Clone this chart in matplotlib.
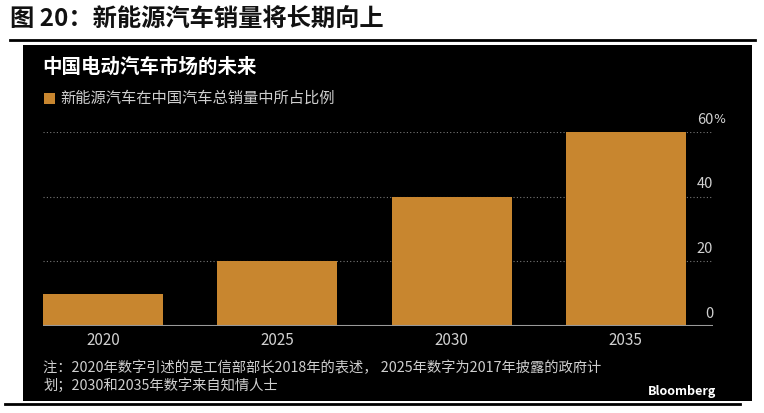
import matplotlib.pyplot as plt
from matplotlib.patches import Rectangle
from matplotlib.lines import Line2D

plt.rcParams['font.family'] = ['Noto Sans CJK SC', 'DejaVu Sans']

years = ['2020', '2025', '2030', '2035']
share = [10, 20, 40, 60]
yticks = [0, 20, 40, 60]
bar_color = '#C8862F'

fig = plt.figure(figsize=(7.64, 4.13), dpi=100)
fig.patch.set_facecolor('white')

W, H = 764, 413


def fx(px):
    return px / W


def fy(py):
    return 1 - py / H


# figure header
fig.text(fx(10), fy(20), '图 20：新能源汽车销量将长期向上', fontsize=17.5,
         fontweight='bold', va='center', ha='left', color='#111111')
fig.add_artist(Line2D([fx(10), fx(755)], [fy(40), fy(40)], color='black', lw=2))

# black panel
fig.add_artist(Rectangle((fx(23), fy(401)), fx(752) - fx(23), fy(45) - fy(401),
                         facecolor='black', edgecolor='none', zorder=0))
fig.add_artist(Line2D([fx(5), fx(740)], [fy(404), fy(404)], color='black', lw=2))

fig.text(fx(42), fy(67), '中国电动汽车市场的未来', fontsize=14, fontweight='bold',
         color='white', va='center')
fig.add_artist(Rectangle((fx(44), fy(104)), fx(11), 11 / H, facecolor=bar_color,
                         edgecolor='none'))
fig.text(fx(60), fy(98), '新能源汽车在中国汽车总销量中所占比例', fontsize=11,
         color='#cfcfcf', va='center')

# chart axes
x0, x1 = 43, 713
ax = fig.add_axes([fx(x0), fy(326), fx(x1) - fx(x0), fy(132) - fy(326)])
ax.set_facecolor('none')
ax.bar(range(len(years)), share, width=0.69, color=bar_color, zorder=2)
ax.set_xlim(-0.345, 3.5)
ax.set_ylim(0, 60)
for s in ax.spines.values():
    s.set_visible(False)
ax.set_xticks([])
ax.set_yticks([])
for t in yticks[1:]:
    ax.axhline(t, color='#777777', lw=0.8, ls=(0, (1, 2)), zorder=1)
ax.axhline(0, color='#999999', lw=1.5, zorder=3)

for i, y in enumerate(years):
    ax.text(i, -2.0, y, ha='center', va='top', color='#d0d0d0', fontsize=11)
for t in yticks:
    ax.text(3.5, t + 3.8, str(t), ha='right', va='center', color='#d0d0d0',
            fontsize=10.5, clip_on=False)
ax.text(3.5, 63.8, '%', ha='left', va='center', color='#d0d0d0', fontsize=9,
        family='DejaVu Sans')

fig.text(fx(43), fy(368), '注：2020年数字引述的是工信部部长2018年的表述， 2025年数字为2017年披露的政府计',
         fontsize=10.3, color='#cfcfcf', va='center')
fig.text(fx(43), fy(385), '划；2030和2035年数字来自知情人士', fontsize=10.3, color='#cfcfcf',
         va='center')
fig.text(fx(648), fy(392), 'Bloomberg', fontsize=9, fontweight='bold', color='white',
         va='center')

fig.savefig('out.png', dpi=100)
